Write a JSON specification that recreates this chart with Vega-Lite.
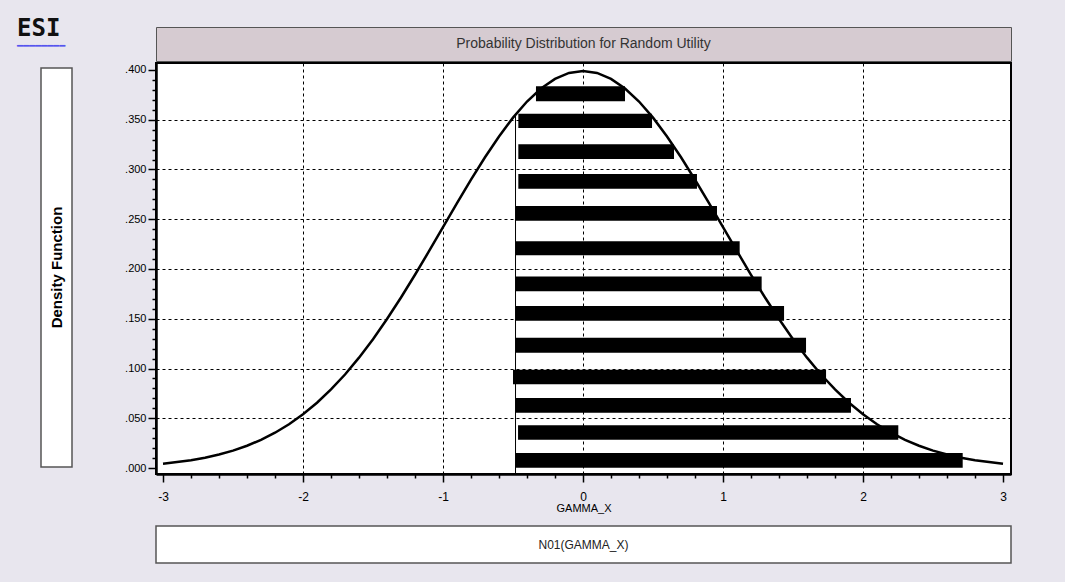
{
  "$schema": "https://vega.github.io/schema/vega-lite/v6.json",
  "background": "#e8e6ee",
  "padding": {"left": 17, "top": 17, "right": 55, "bottom": 20},
  "config": {
    "font": "Liberation Sans",
    "view": {"stroke": null},
    "title": {"font": "Liberation Sans"}
  },
  "datasets": {
    "curve": [
      {"x": -3.0, "density": 0.0044}, {"x": -2.9, "density": 0.0060}, {"x": -2.8, "density": 0.0079},
      {"x": -2.7, "density": 0.0104}, {"x": -2.6, "density": 0.0136}, {"x": -2.5, "density": 0.0175},
      {"x": -2.4, "density": 0.0224}, {"x": -2.3, "density": 0.0283}, {"x": -2.2, "density": 0.0355},
      {"x": -2.1, "density": 0.0440}, {"x": -2.0, "density": 0.0540}, {"x": -1.9, "density": 0.0656},
      {"x": -1.8, "density": 0.0790}, {"x": -1.7, "density": 0.0940}, {"x": -1.6, "density": 0.1109},
      {"x": -1.5, "density": 0.1295}, {"x": -1.4, "density": 0.1497}, {"x": -1.3, "density": 0.1714},
      {"x": -1.2, "density": 0.1942}, {"x": -1.1, "density": 0.2179}, {"x": -1.0, "density": 0.2420},
      {"x": -0.9, "density": 0.2661}, {"x": -0.8, "density": 0.2897}, {"x": -0.7, "density": 0.3123},
      {"x": -0.6, "density": 0.3332}, {"x": -0.5, "density": 0.3521}, {"x": -0.4, "density": 0.3683},
      {"x": -0.3, "density": 0.3814}, {"x": -0.2, "density": 0.3910}, {"x": -0.1, "density": 0.3970},
      {"x": 0.0, "density": 0.3989},
      {"x": 0.1, "density": 0.3970}, {"x": 0.2, "density": 0.3910}, {"x": 0.3, "density": 0.3814},
      {"x": 0.4, "density": 0.3683}, {"x": 0.5, "density": 0.3521}, {"x": 0.6, "density": 0.3332},
      {"x": 0.7, "density": 0.3123}, {"x": 0.8, "density": 0.2897}, {"x": 0.9, "density": 0.2661},
      {"x": 1.0, "density": 0.2420}, {"x": 1.1, "density": 0.2179}, {"x": 1.2, "density": 0.1942},
      {"x": 1.3, "density": 0.1714}, {"x": 1.4, "density": 0.1497}, {"x": 1.5, "density": 0.1295},
      {"x": 1.6, "density": 0.1109}, {"x": 1.7, "density": 0.0940}, {"x": 1.8, "density": 0.0790},
      {"x": 1.9, "density": 0.0656}, {"x": 2.0, "density": 0.0540}, {"x": 2.1, "density": 0.0440},
      {"x": 2.2, "density": 0.0355}, {"x": 2.3, "density": 0.0283}, {"x": 2.4, "density": 0.0224},
      {"x": 2.5, "density": 0.0175}, {"x": 2.6, "density": 0.0136}, {"x": 2.7, "density": 0.0104},
      {"x": 2.8, "density": 0.0079}, {"x": 2.9, "density": 0.0060}, {"x": 3.0, "density": 0.0044}
    ],
    "bars": [
      {"x1": -0.336, "x2": 0.300, "y1": 0.3685, "y2": 0.3836},
      {"x1": -0.462, "x2": 0.493, "y1": 0.3417, "y2": 0.3561},
      {"x1": -0.462, "x2": 0.650, "y1": 0.3106, "y2": 0.3253},
      {"x1": -0.462, "x2": 0.814, "y1": 0.2807, "y2": 0.2955},
      {"x1": -0.479, "x2": 0.957, "y1": 0.2485, "y2": 0.2633},
      {"x1": -0.479, "x2": 1.119, "y1": 0.2138, "y2": 0.2278},
      {"x1": -0.479, "x2": 1.276, "y1": 0.1777, "y2": 0.1925},
      {"x1": -0.479, "x2": 1.436, "y1": 0.1480, "y2": 0.1628},
      {"x1": -0.479, "x2": 1.593, "y1": 0.1159, "y2": 0.1310},
      {"x1": -0.500, "x2": 1.736, "y1": 0.0841, "y2": 0.0988},
      {"x1": -0.479, "x2": 1.914, "y1": 0.0556, "y2": 0.0704},
      {"x1": -0.464, "x2": 2.252, "y1": 0.0284, "y2": 0.0429},
      {"x1": -0.479, "x2": 2.712, "y1": 0.0003, "y2": 0.0151}
    ],
    "cut": [{"x": -0.482, "y1": -0.006, "y2": 0.3555}]
  },
  "spacing": 50,
  "hconcat": [
    {
      "spacing": 0,
      "vconcat": [
        {
          "width": 31,
          "height": 40,
          "title": {
            "text": "ESI",
            "subtitle": "━━━━━━━━",
            "anchor": "start",
            "frame": "group",
            "dx": -24,
            "offset": -24,
            "font": "DejaVu Sans Mono",
            "fontSize": 24,
            "fontWeight": "bold",
            "color": "#111111",
            "subtitleColor": "#5555ee",
            "subtitleFont": "DejaVu Sans Mono",
            "subtitleFontSize": 10,
            "subtitlePadding": 0
          },
          "data": {"values": [{"t": ""}]},
          "mark": {"type": "text"},
          "encoding": {"text": {"field": "t"}},
          "view": {"stroke": null, "fill": null}
        },
        {
          "width": 31,
          "height": 399,
          "data": {"values": [{"t": "Density Function"}]},
          "mark": {"type": "text", "angle": 270, "fontWeight": "bold", "fontSize": 15, "color": "black"},
          "encoding": {"text": {"field": "t"}},
          "view": {"fill": "white", "stroke": "#555555", "strokeWidth": 1.5}
        }
      ]
    },
    {
      "spacing": 11,
      "vconcat": [
        {
          "spacing": 0,
          "vconcat": [
            {
              "width": 855,
              "height": 34,
              "data": {"values": [{"t": "Probability Distribution for Random Utility"}]},
              "mark": {"type": "text", "fontSize": 14, "color": "#333333"},
              "encoding": {"text": {"field": "t"}},
              "view": {"fill": "#d6cbd1", "stroke": "#555555", "strokeWidth": 1}
            },
            {
              "width": 855,
              "height": 411,
              "view": {"fill": "white", "stroke": "black", "strokeWidth": 2},
              "layer": [
                {
                  "data": {"name": "bars"},
                  "mark": {"type": "rect", "color": "black"},
                  "encoding": {
                    "x": {
                      "field": "x1", "type": "quantitative",
                      "scale": {"domain": [-3.05, 3.057], "nice": false, "zero": false},
                      "axis": {
                        "title": "GAMMA_X",
                        "titleFontSize": 11,
                        "titleFontWeight": "normal",
                        "titleColor": "black",
                        "titlePadding": 0,
                        "tickCount": 1000,
                        "values": [-3, -2.8, -2.6, -2.4, -2.2, -2, -1.8, -1.6, -1.4, -1.2, -1, -0.8, -0.6, -0.4, -0.2, 0, 0.2, 0.4, 0.6, 0.8, 1, 1.2, 1.4, 1.6, 1.8, 2, 2.2, 2.4, 2.6, 2.8, 3],
                        "labelExpr": "abs(datum.value - round(datum.value)) < 0.001 ? '' + round(datum.value) : ''",
                        "labelOverlap": false,
                        "labelFlush": false,
                        "labelFontSize": 12,
                        "labelColor": "black",
                        "labelPadding": 9,
                        "tickSize": {"condition": {"test": "abs(datum.value - round(datum.value)) < 0.001", "value": 8}, "value": 4},
                        "tickColor": "black",
                        "tickWidth": 1.5,
                        "domainColor": "black",
                        "domainWidth": 2.5,
                        "grid": true,
                        "gridColor": "black",
                        "gridDash": [3, 3],
                        "gridWidth": 1,
                        "gridOpacity": {"condition": {"test": "abs(datum.value - round(datum.value)) < 0.001 && abs(datum.value) < 2.5", "value": 1}, "value": 0}
                      }
                    },
                    "x2": {"field": "x2"},
                    "y": {
                      "field": "y1", "type": "quantitative",
                      "scale": {"domain": [-0.006, 0.407], "nice": false, "zero": false},
                      "axis": {
                        "title": null,
                        "tickCount": 1000,
                        "values": [0, 0.01, 0.02, 0.03, 0.04, 0.05, 0.06, 0.07, 0.08, 0.09, 0.1, 0.11, 0.12, 0.13, 0.14, 0.15, 0.16, 0.17, 0.18, 0.19, 0.2, 0.21, 0.22, 0.23, 0.24, 0.25, 0.26, 0.27, 0.28, 0.29, 0.3, 0.31, 0.32, 0.33, 0.34, 0.35, 0.36, 0.37, 0.38, 0.39, 0.4],
                        "labelExpr": "abs(datum.value * 20 - round(datum.value * 20)) < 0.001 ? replace(format(datum.value, '.3f'), '0.', '.') : ''",
                        "labelOverlap": false,
                        "labelFlush": false,
                        "labelFontSize": 11,
                        "labelColor": "black",
                        "labelPadding": 2,
                        "minExtent": 30,
                        "tickSize": {"condition": {"test": "abs(datum.value * 20 - round(datum.value * 20)) < 0.001", "value": 8}, "value": 4},
                        "tickColor": "black",
                        "tickWidth": 1.5,
                        "domainColor": "black",
                        "domainWidth": 2.5,
                        "grid": true,
                        "gridColor": "black",
                        "gridDash": [3, 3],
                        "gridWidth": 1,
                        "gridOpacity": {"condition": {"test": "abs(datum.value * 20 - round(datum.value * 20)) < 0.001 && datum.value > 0.02 && datum.value < 0.38", "value": 1}, "value": 0}
                      }
                    },
                    "y2": {"field": "y2"}
                  }
                },
                {
                  "data": {"name": "cut"},
                  "mark": {"type": "rule", "color": "black", "strokeWidth": 1},
                  "encoding": {
                    "x": {"field": "x", "type": "quantitative", "title": "GAMMA_X"},
                    "y": {"field": "y1", "type": "quantitative", "title": null},
                    "y2": {"field": "y2"}
                  }
                },
                {
                  "data": {"name": "curve"},
                  "mark": {"type": "line", "color": "black", "strokeWidth": 2.5},
                  "encoding": {
                    "x": {"field": "x", "type": "quantitative", "title": "GAMMA_X"},
                    "y": {"field": "density", "type": "quantitative", "title": null}
                  }
                }
              ]
            }
          ]
        },
        {
          "width": 855,
          "height": 37,
          "data": {"values": [{"t": "N01(GAMMA_X)"}]},
          "mark": {"type": "text", "fontSize": 12, "color": "#222222"},
          "encoding": {"text": {"field": "t"}},
          "view": {"fill": "white", "stroke": "#555555", "strokeWidth": 1.5}
        }
      ]
    }
  ]
}
